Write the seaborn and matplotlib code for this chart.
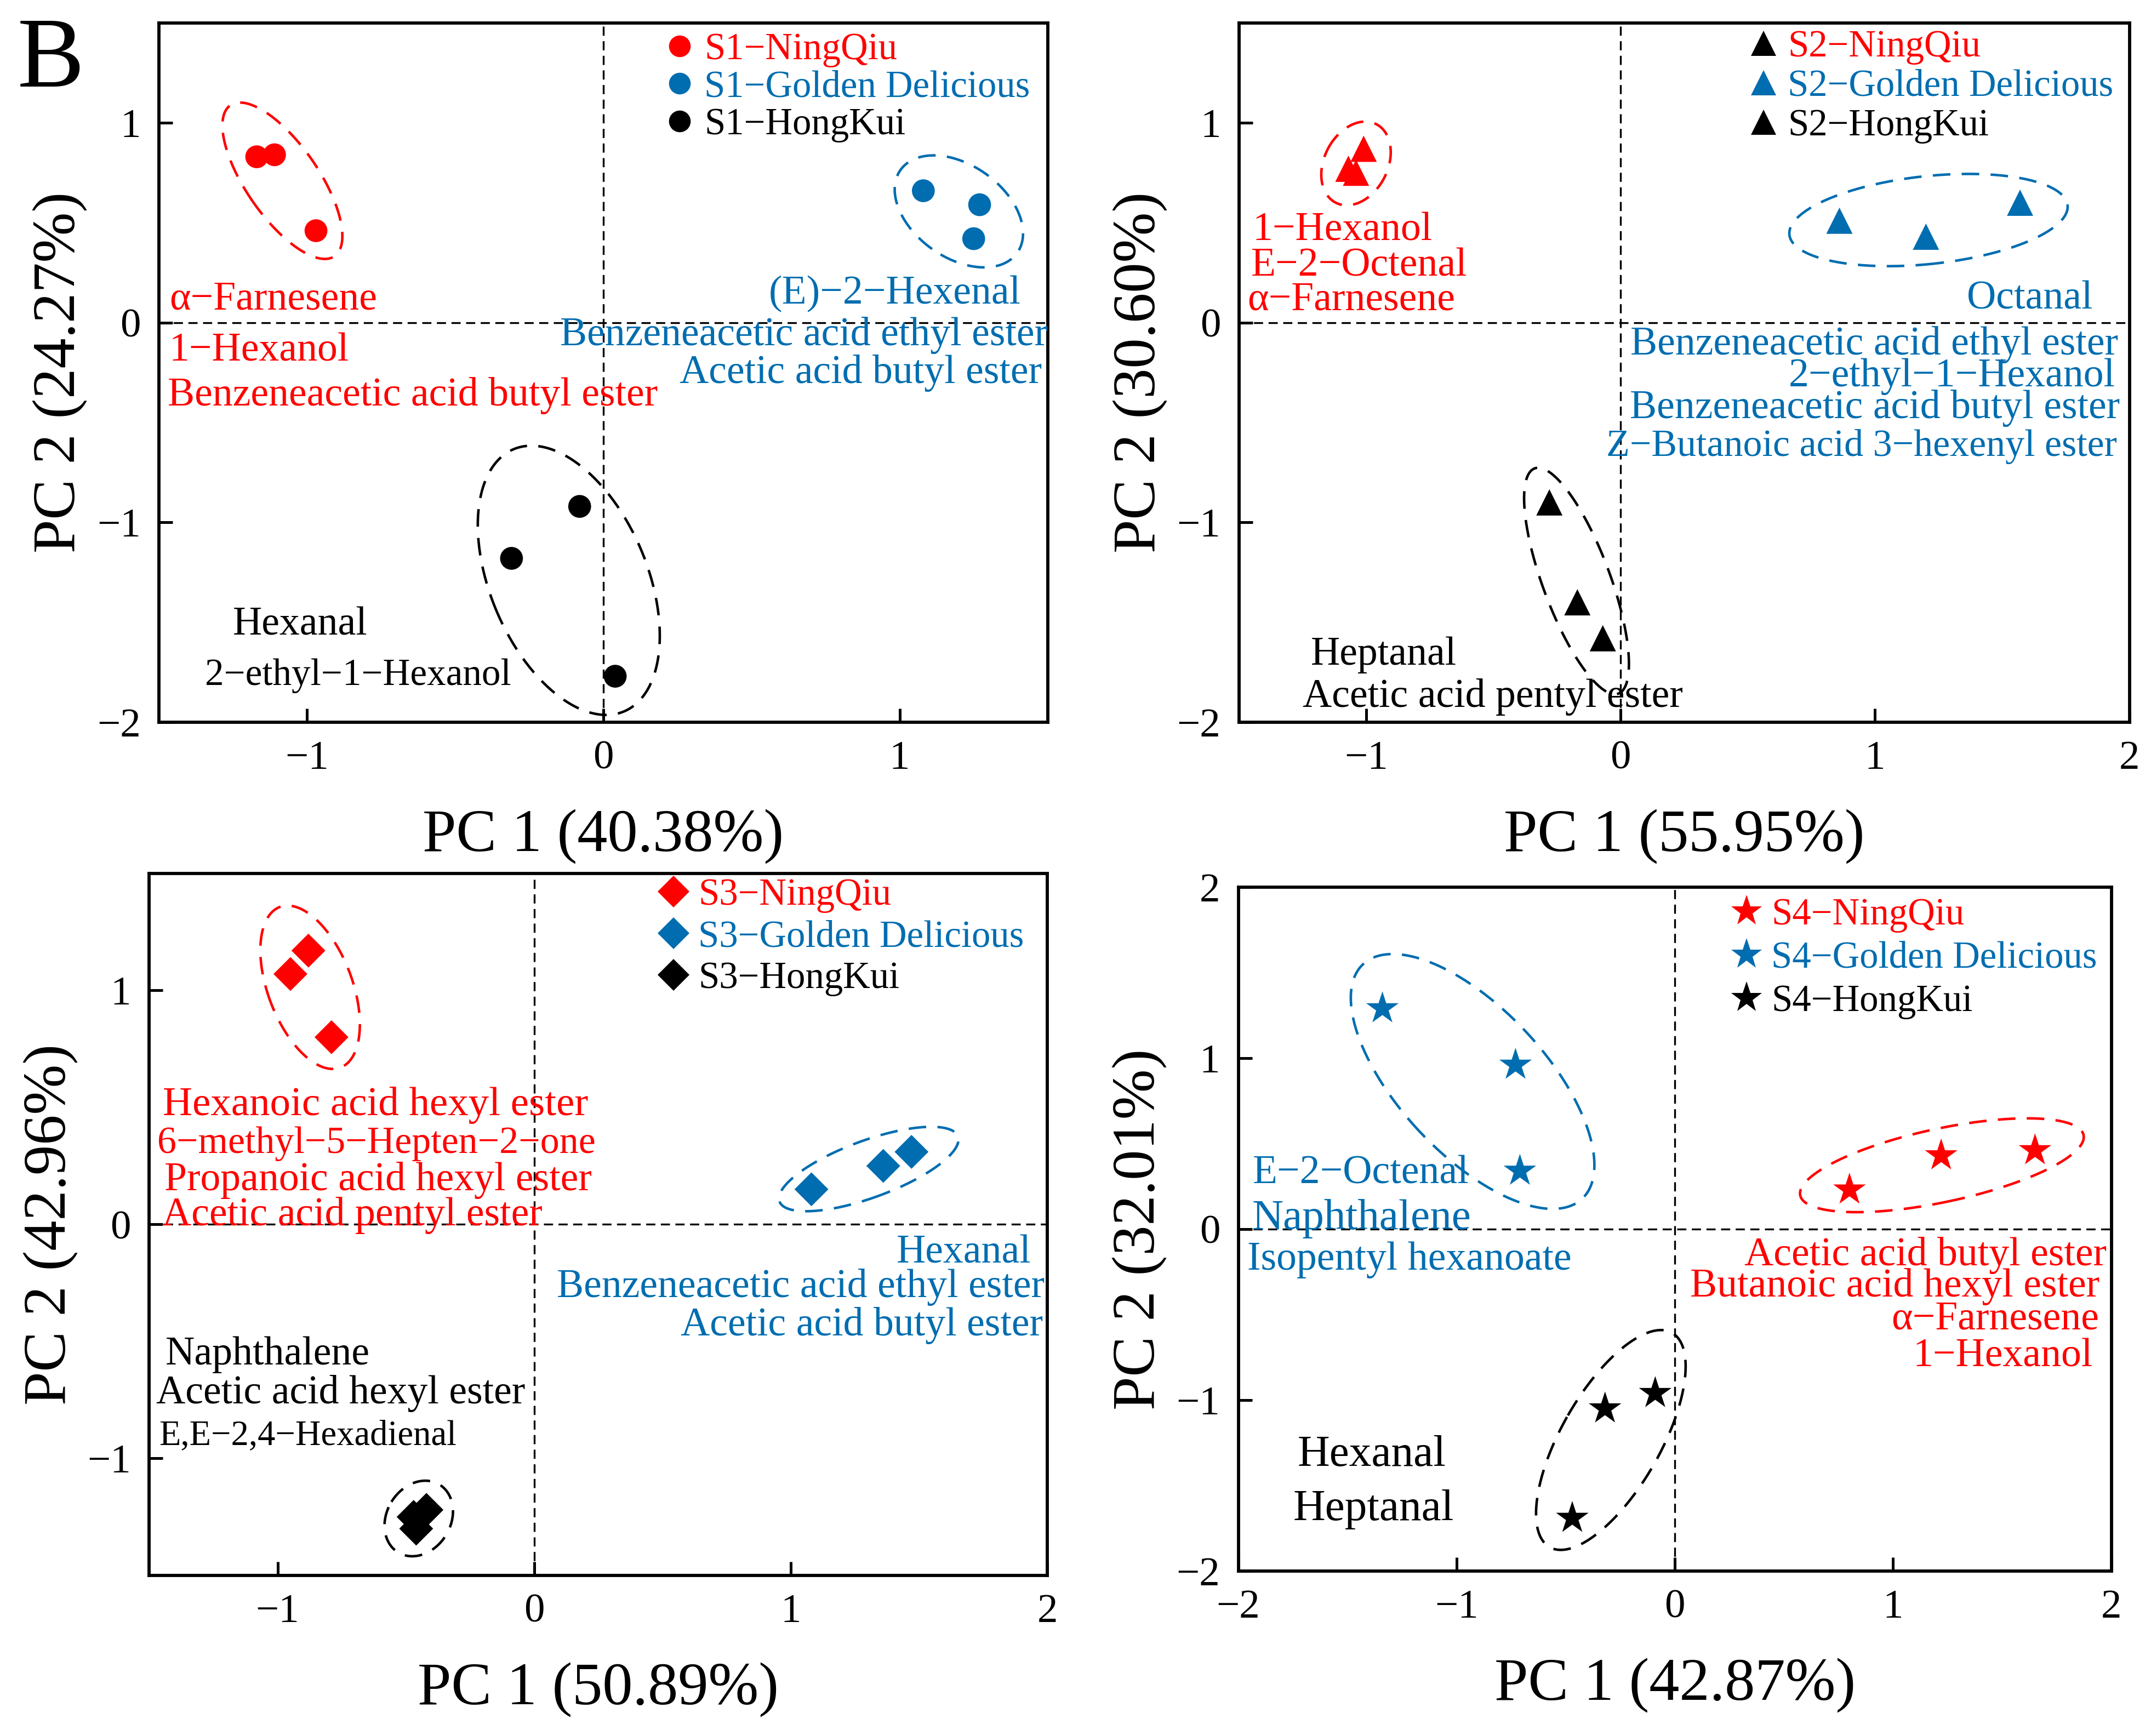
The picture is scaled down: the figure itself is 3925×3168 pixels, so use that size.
import numpy as np
import pandas as pd
import matplotlib
matplotlib.use("Agg")
import matplotlib.pyplot as plt
import seaborn as sns
from matplotlib.lines import Line2D

RED = "#FF0000"
BLUE = "#006DB0"
BLACK = "#000000"

cultivar = ["NingQiu"] * 3 + ["Golden Delicious"] * 3 + ["HongKui"] * 3
palette = {"NingQiu": RED, "Golden Delicious": BLUE, "HongKui": BLACK}

# PCA scores, 3 replicates per cultivar
s1_pc1 = [-1.17, -1.11, -0.97, 1.08, 1.27, 1.25, -0.08, -0.31, 0.04]
s1_pc2 = [0.83, 0.84, 0.46, 0.66, 0.59, 0.42, -0.92, -1.18, -1.77]
s2_pc1 = [-1.01, -1.07, -1.04, 0.86, 1.20, 1.57, -0.28, -0.17, -0.07]
s2_pc2 = [0.87, 0.77, 0.75, 0.51, 0.43, 0.60, -0.90, -1.40, -1.58]
s3_pc1 = [-0.88, -0.95, -0.79, 1.08, 1.36, 1.47, -0.47, -0.42, -0.46]
s3_pc2 = [1.17, 1.07, 0.80, 0.15, 0.25, 0.31, -1.25, -1.22, -1.30]
s4_pc1 = [0.80, 1.22, 1.65, -1.34, -0.73, -0.71, -0.32, -0.09, -0.47]
s4_pc2 = [0.23, 0.43, 0.46, 1.29, 0.96, 0.34, -1.05, -0.96, -1.69]

pc1_var = ["40.38", "55.95", "50.89", "42.87"]
pc2_var = ["24.27", "30.60", "42.96", "32.01"]

F = 17.7  # annotation font size

s1_notes = [
    ("α−Farnesene", -1.465, 0.116, "left", RED, F),
    ("1−Hexanol", -1.465, -0.144, "left", RED, F),
    ("Benzeneacetic acid butyl ester", -1.47, -0.365, "left", RED, F),
    ("(E)−2−Hexenal", 1.41, 0.144, "right", BLUE, F),
    ("Benzeneacetic acid ethyl ester", 1.50, -0.064, "right", BLUE, F),
    ("Acetic acid butyl ester", 1.48, -0.254, "right", BLUE, F),
    ("Hexanal", -1.25, -1.514, "left", BLACK, F),
    ("2−ethyl−1−Hexanol", -1.345, -1.768, "left", BLACK, 16.6),
]
s2_notes = [
    ("1−Hexanol", -1.447, 0.462, "left", RED, F),
    ("E−2−Octenal", -1.453, 0.282, "left", RED, F),
    ("α−Farnesene", -1.466, 0.111, "left", RED, F),
    ("Octanal", 1.855, 0.119, "right", BLUE, F),
    ("Benzeneacetic acid ethyl ester", 1.955, -0.111, "right", BLUE, F),
    ("2−ethyl−1−Hexanol", 1.944, -0.271, "right", BLUE, F),
    ("Benzeneacetic acid butyl ester", 1.963, -0.429, "right", BLUE, F),
    ("Z−Butanoic acid 3−hexenyl ester", 1.95, -0.622, "right", BLUE, 16.8),
    ("Heptanal", -1.218, -1.664, "left", BLACK, F),
    ("Acetic acid pentyl ester", -1.25, -1.874, "left", BLACK, F),
]
s3_notes = [
    ("Hexanoic acid hexyl ester", -1.447, 0.508, "left", RED, 18),
    ("6−methyl−5−Hepten−2−one", -1.469, 0.344, "left", RED, 16.8),
    ("Propanoic acid hexyl ester", -1.442, 0.188, "left", RED, F),
    ("Acetic acid pentyl ester", -1.45, 0.038, "left", RED, F),
    ("Hexanal", 1.936, -0.122, "right", BLUE, F),
    ("Benzeneacetic acid ethyl ester", 1.989, -0.268, "right", BLUE, F),
    ("Acetic acid butyl ester", 1.981, -0.433, "right", BLUE, F),
    ("Naphthalene", -1.437, -0.558, "left", BLACK, F),
    ("Acetic acid hexyl ester", -1.474, -0.722, "left", BLACK, F),
    ("E,E−2,4−Hexadienal", -1.461, -0.904, "left", BLACK, 15.5),
]
s4_notes = [
    ("E−2−Octenal", -1.934, 0.324, "left", BLUE, F),
    ("Naphthalene", -1.937, 0.062, "left", BLUE, 19),
    ("Isopentyl hexanoate", -1.959, -0.182, "left", BLUE, F),
    ("Acetic acid butyl ester", 1.978, -0.155, "right", RED, F),
    ("Butanoic acid hexyl ester", 1.946, -0.337, "right", RED, F),
    ("α−Farnesene", 1.943, -0.529, "right", RED, F),
    ("1−Hexanol", 1.915, -0.746, "right", RED, F),
    ("Hexanal", -1.729, -1.323, "left", BLACK, 19.5),
    ("Heptanal", -1.748, -1.638, "left", BLACK, 19.5),
]

sns.set_style("ticks")
plt.rcParams["font.family"] = ["Liberation Serif", "DejaVu Serif"]
for key in ["text.color", "axes.labelcolor", "xtick.color", "ytick.color",
            "axes.edgecolor"]:
    plt.rcParams[key] = "black"


def draw_ellipse(ax, xs, ys, color, k=1.25, pad=48):
    # confidence-style ellipse computed in display space around the replicates
    pts = ax.transData.transform(np.column_stack([xs, ys]))
    c = pts.mean(axis=0)
    vals, vecs = np.linalg.eigh(np.cov(pts.T))
    radii = k * np.sqrt(np.clip(vals, 0, None)) + pad
    t = np.linspace(0, 2 * np.pi, 240)
    ring = (np.column_stack([np.cos(t), np.sin(t)]) * radii) @ vecs.T + c
    ring = ax.transData.inverted().transform(ring)
    ax.plot(ring[:, 0], ring[:, 1], color=color, lw=1.1, ls=(0, (7, 4.5)))


def pca_panel(ax, stage, pc1, pc2, marker, ms, xlim, ylim, xticks, yticks,
              notes, legend_anchor, legend_colors, spacing, var1, var2):
    df = pd.DataFrame({"PC1": pc1, "PC2": pc2, "cultivar": cultivar})
    ax.set_xlim(xlim)
    ax.set_ylim(ylim)
    ax.axhline(0, color="k", lw=0.8, ls=(0, (5, 3)), zorder=1)
    ax.axvline(0, color="k", lw=0.8, ls=(0, (5, 3)), zorder=1)
    for name in palette:
        sub = df[df.cultivar == name]
        draw_ellipse(ax, sub.PC1.values, sub.PC2.values, palette[name])
    sns.scatterplot(data=df, x="PC1", y="PC2", hue="cultivar", palette=palette,
                    marker=marker, s=ms ** 2, linewidth=0, legend=False,
                    ax=ax, zorder=3)
    for text, x, y, ha, color, size in notes:
        ax.text(x, y, text, ha=ha, va="center", color=color, fontsize=size)
    handles = [Line2D([], [], ls="", marker=marker, markersize=ms * 0.95,
                      color=hc, markeredgewidth=0) for hc in legend_colors]
    labels = [f"S{stage}\u2212{name}" for name in palette]
    ax.legend(handles, labels, loc="upper left", bbox_to_anchor=legend_anchor,
              frameon=False, fontsize=16.5, handlelength=0.8,
              handletextpad=0.25, labelspacing=spacing, borderpad=0,
              borderaxespad=0, labelcolor=list(palette.values()))
    ax.set_xticks(xticks)
    ax.set_yticks(yticks)
    ax.tick_params(direction="in", length=6, width=1.2, labelsize=18, pad=8,
                   top=False, right=False)
    for sp in ax.spines.values():
        sp.set_linewidth(1.4)
        sp.set_visible(True)
    ax.set_xlabel(f"PC 1 ({var1}%)", fontsize=26.5, labelpad=14)
    ax.set_ylabel(f"PC 2 ({var2}%)", fontsize=26.5, labelpad=4)


fig = plt.figure(figsize=(3925 / 300, 3168 / 300), dpi=300)
ax1 = fig.add_axes([0.0739, 0.584, 0.4132, 0.4028])
ax2 = fig.add_axes([0.576, 0.584, 0.414, 0.4028])
ax3 = fig.add_axes([0.0694, 0.0925, 0.4176, 0.4044])
ax4 = fig.add_axes([0.5757, 0.095, 0.4059, 0.394])

pca_panel(ax1, 1, s1_pc1, s1_pc2, "o", 10, (-1.5, 1.5), (-2, 1.5), [-1, 0, 1],
          [-2, -1, 0, 1], s1_notes, (0.569, 0.986), [RED, BLUE, BLACK], 0.07,
          pc1_var[0], pc2_var[0])
pca_panel(ax2, 2, s2_pc1, s2_pc2, "^", 11.5, (-1.5, 2), (-2, 1.5), [-1, 0, 1, 2],
          [-2, -1, 0, 1], s2_notes, (0.572, 0.99), [BLACK, BLUE, BLACK], 0.12,
          pc1_var[1], pc2_var[1])
pca_panel(ax3, 3, s3_pc1, s3_pc2, "D", 10.5, (-1.5, 2), (-1.5, 1.5), [-1, 0, 1, 2],
          [-1, 0, 1], s3_notes, (0.567, 0.993), [RED, BLUE, BLACK], 0.18,
          pc1_var[2], pc2_var[2])
pca_panel(ax4, 4, s4_pc1, s4_pc2, "*", 15, (-2, 2), (-2, 2), [-2, -1, 0, 1, 2],
          [-2, -1, 0, 1, 2], s4_notes, (0.565, 0.984), [RED, BLUE, BLACK], 0.22,
          pc1_var[3], pc2_var[3])

fig.text(0.008, 0.99, "B", fontsize=44, ha="left", va="top")

fig.savefig("out.png", dpi=300)
